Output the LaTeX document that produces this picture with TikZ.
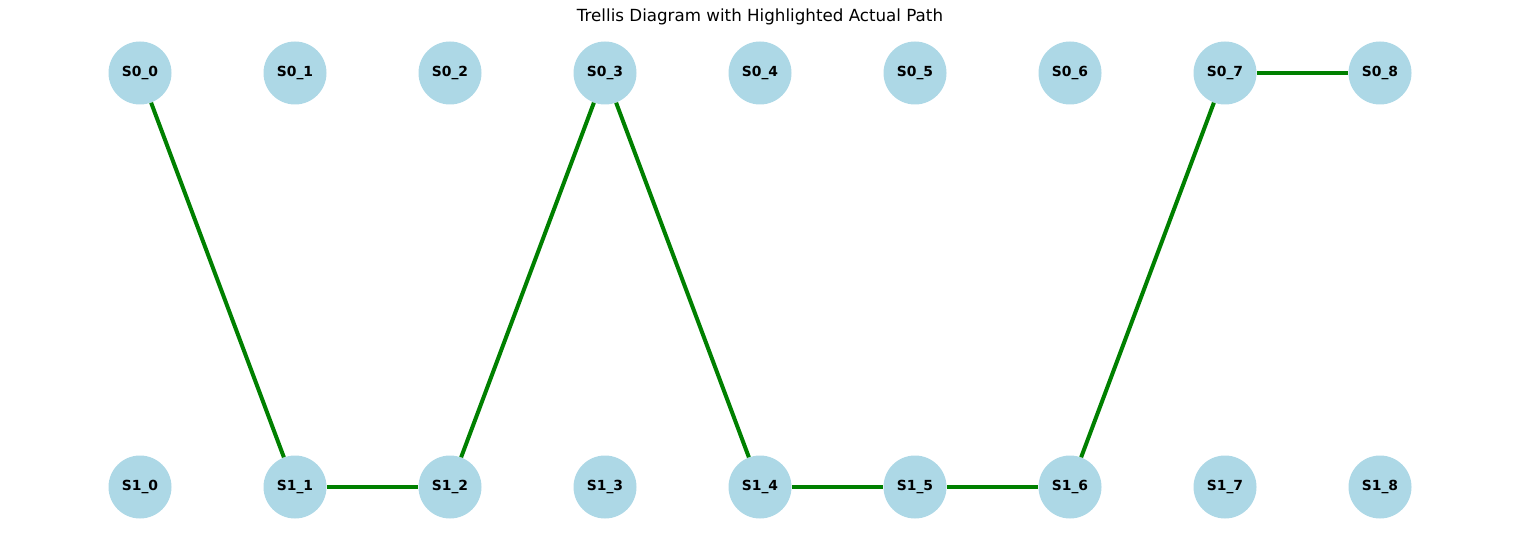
\documentclass[tikz,border=0pt]{standalone}
\usepackage{fontspec}
\setmainfont{DejaVu Sans}
\definecolor{nodeblue}{RGB}{173,216,230}
\definecolor{pathgreen}{RGB}{0,128,0}
\begin{document}
\begin{tikzpicture}[x=1pt, y=-1pt]
			\tikzstyle{state}  = [circle, minimum size=63pt, inner sep=0pt, fill=nodeblue, font=\fontsize{13.9}{16}\selectfont\bfseries]
			\tikzstyle{actual} = [draw=pathgreen, line width=4pt]

			\useasboundingbox (0, 0) rectangle (1520, 540);
			\node (title) at (760, 17) {\fontsize{16.7}{20}\selectfont Trellis Diagram with Highlighted Actual Path};

			\foreach \t in {0,...,8} {
				\node[state] (s0\t) at (140 + 155*\t, 73) {S0\_\t};
				\node[state] (s1\t) at (140 + 155*\t, 487) {S1\_\t};
			}

			\foreach \from/\to in {s00/s11, s11/s12, s12/s03, s03/s14, s14/s15, s15/s16, s16/s07, s07/s08}
				\draw[actual] (\from) -- (\to);
		\end{tikzpicture}
\end{document}
